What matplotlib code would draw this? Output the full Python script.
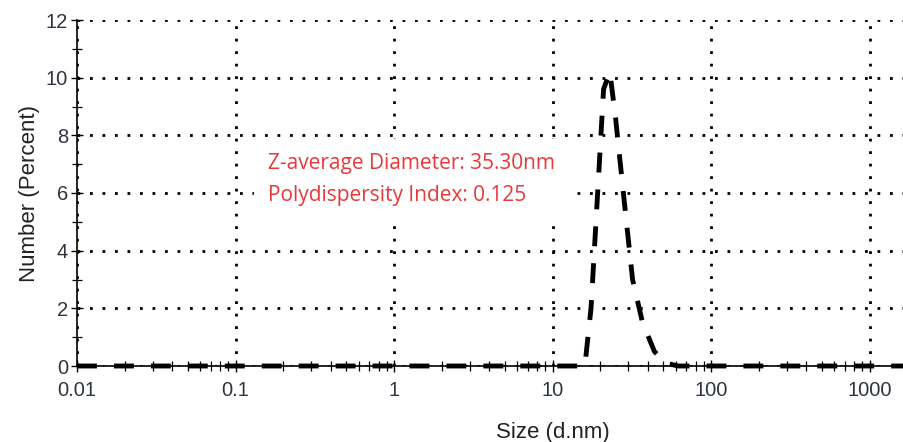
import matplotlib
matplotlib.use("Agg")
import matplotlib.pyplot as plt
from matplotlib.ticker import LogLocator, NullFormatter, MultipleLocator

# Data
sizes = [0.01, 16.0, 17.5, 19.5, 21.0, 23.0, 25.0, 28.0, 32.0, 37.0, 44.0, 52.0, 62.0, 10000.0]
number_pct = [0.0, 0.0, 2.0, 6.5, 9.6, 10.2, 8.6, 6.0, 3.0, 1.5, 0.5, 0.1, 0.0, 0.0]
x_ticks = [0.01, 0.1, 1, 10, 100, 1000]
x_ticklabels = ["0.01", "0.1", "1", "10", "100", "1000"]
y_ticks = [0, 2, 4, 6, 8, 10, 12]
annotation = ["Z-average Diameter: 35.30nm", "Polydispersity Index: 0.125"]

plt.rcParams['font.family'] = ['Liberation Sans', 'DejaVu Sans']

fig = plt.figure(figsize=(9.04, 4.42), dpi=100)
left = 77 / 904
width = 6 * 158.5 / 904
bottom = (442 - 366) / 442
height = (366 - 20) / 442
ax = fig.add_axes([left, bottom, width, height])

ax.set_xscale('log')
ax.set_xlim(0.01, 10000)
ax.set_ylim(0, 12)

ax.plot(sizes, number_pct, color='black', lw=3.5, linestyle=(0, (4.1, 3.5)),
        solid_capstyle='butt', dash_capstyle='butt', zorder=4, clip_on=False)

ax.set_xticks(x_ticks)
ax.set_xticklabels(x_ticklabels)
ax.xaxis.set_minor_locator(LogLocator(base=10, subs=range(2, 10), numticks=20))
ax.xaxis.set_minor_formatter(NullFormatter())
ax.set_yticks(y_ticks)
ax.yaxis.set_minor_locator(MultipleLocator(1))

ax.tick_params(axis='both', which='major', direction='inout', length=9, width=1.0,
               labelsize=14.5, colors='black', labelcolor='#2f3540')
ax.tick_params(axis='both', which='minor', direction='inout', length=7, width=0.9)
ax.tick_params(axis='x', which='major', pad=6)
ax.tick_params(axis='y', which='major', pad=2)

for s in ['top', 'right']:
    ax.spines[s].set_visible(False)
for s in ['left', 'bottom']:
    ax.spines[s].set_linewidth(1.2)

ax.grid(True, which='major', color='black', linestyle=(0, (1, 3.5)), linewidth=2.0)
ax.set_axisbelow(True)

ax.set_xlabel("Size (d.nm)", fontsize=16, color='#222222', labelpad=16)
ax.set_ylabel("Number (Percent)", fontsize=16, color='#222222', labelpad=4)

ax.text(0.16, 6.48, annotation[0] + "\n" + annotation[1],
        fontsize=15, color='#e8393a', family=['Open Sans', 'DejaVu Sans'],
        va='center', ha='left', linespacing=1.68, zorder=3,
        bbox=dict(facecolor='white', edgecolor='none', pad=10))

fig.savefig("out.png", dpi=100)
